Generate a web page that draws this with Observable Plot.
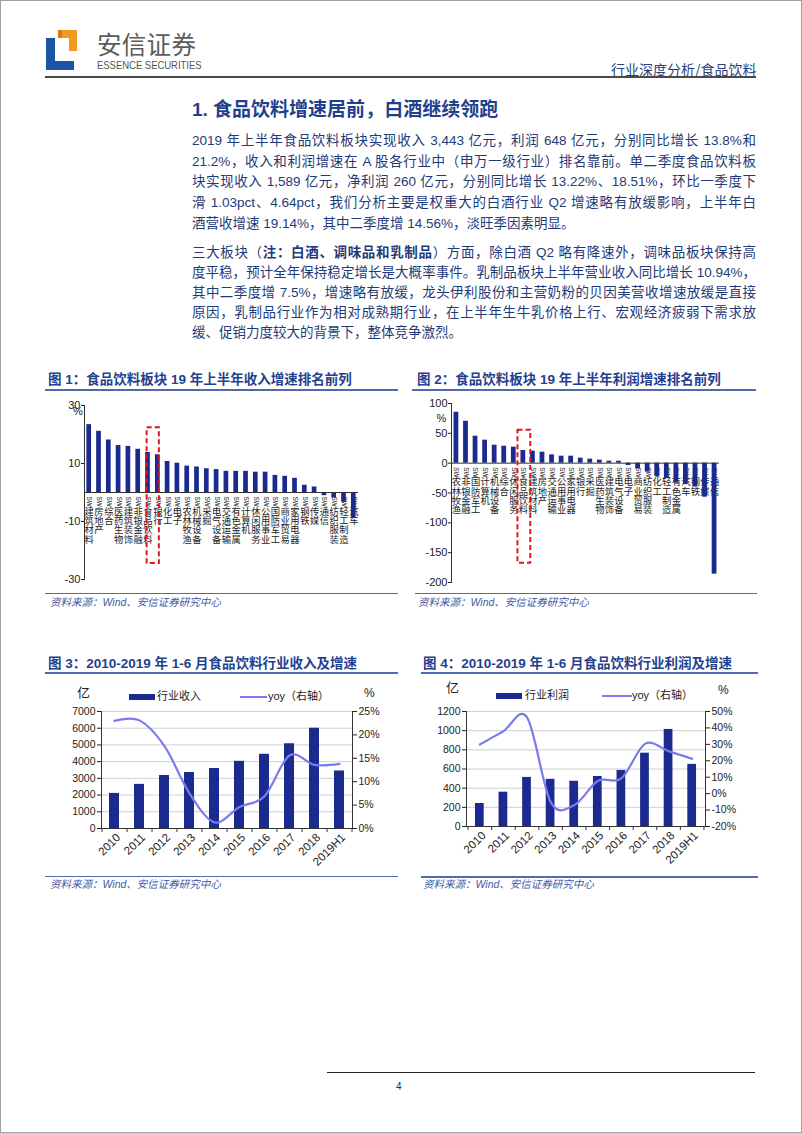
<!DOCTYPE html>
<html lang="zh-CN">
<head>
<meta charset="utf-8">
<title>行业深度分析/食品饮料</title>
<script src="https://cdn.jsdelivr.net/npm/d3@7"></script>
<script src="https://cdn.jsdelivr.net/npm/@observablehq/plot@0.6"></script>
<style>
html,body{margin:0;padding:0;background:#fff;}
#page{position:relative;width:802px;height:1133px;overflow:hidden;background:#fff;font-family:"Liberation Sans","Noto Sans CJK SC",sans-serif;}
#border{position:absolute;left:0;top:0;width:800px;height:1131px;border:1px solid #a0a0a0;pointer-events:none;}
.a{position:absolute;white-space:nowrap;}
.brand{left:97px;top:30px;font-size:24.5px;color:#5b5b5b;font-family:"Noto Sans CJK SC",sans-serif;line-height:27px;letter-spacing:0.3px;}
.essence{left:97px;top:59px;font-size:11px;line-height:12px;color:#555;font-family:"Liberation Sans",sans-serif;transform:scaleX(0.86);transform-origin:0 0;}
.hdr{left:611px;top:61px;font-size:14px;color:#2c3f7c;line-height:16px;font-family:"Noto Sans CJK SC",sans-serif;}
.rule{position:absolute;}
.h1{left:192px;top:98px;font-size:19px;font-weight:bold;color:#1f3f8f;line-height:24px;}
.ln{position:absolute;left:192px;width:564px;height:20px;line-height:20px;font-size:13.5px;color:#1f3a78;text-align:justify;text-align-last:justify;white-space:normal;}
.ln.end{text-align-last:auto;}
.ctitle{font-size:13.5px;font-weight:bold;color:#1f418f;line-height:16px;}
.src{font-size:10.5px;font-style:italic;color:#3b5ba3;line-height:14px;}
.leg{font-size:11px;line-height:15px;color:#222;}
.unit{font-size:13px;line-height:15px;color:#222;}
.chart{position:absolute;}
.chart svg{overflow:visible;}
</style>
</head>
<body>
<div id="page">
  <div id="border"></div>

  <!-- header -->
  <svg class="a" style="left:40px;top:25px" width="45" height="50" viewBox="40 25 45 50">
    <path d="M46,38 H55 V61 H74 V70 H46 Z" fill="#1c55a8"/>
    <path d="M62,30 H77 V51 H69 V38 H62 Z" fill="#f39a1e"/>
    <path d="M58,30 H62 V38 H58 Z" fill="#d9780f"/>
  </svg>
  <div class="a brand">安信证券</div>
  <div class="a essence">ESSENCE SECURITIES</div>
  <div class="a hdr">行业深度分析/食品饮料</div>
  <div class="rule" style="left:45px;top:76px;width:711px;height:2px;background:#4a4a4a"></div>

  <!-- section heading and text -->
  <div class="a h1">1. 食品饮料增速居前，白酒继续领跑</div>
  <div class="ln" style="top:131px">2019 年上半年食品饮料板块实现收入 3,443 亿元，利润 648 亿元，分别同比增长 13.8%和</div>
  <div class="ln" style="top:152px">21.2%，收入和利润增速在 A 股各行业中（申万一级行业）排名靠前。单二季度食品饮料板</div>
  <div class="ln" style="top:172px">块实现收入 1,589 亿元，净利润 260 亿元，分别同比增长 13.22%、18.51%，环比一季度下</div>
  <div class="ln" style="top:193px">滑 1.03pct、4.64pct，我们分析主要是权重大的白酒行业 Q2 增速略有放缓影响，上半年白</div>
  <div class="ln end" style="top:214px">酒营收增速 19.14%，其中二季度增 14.56%，淡旺季因素明显。</div>

  <div class="ln" style="top:243px">三大板块（<b>注：白酒、调味品和乳制品</b>）方面，除白酒 Q2 略有降速外，调味品板块保持高</div>
  <div class="ln" style="top:263px">度平稳，预计全年保持稳定增长是大概率事件。乳制品板块上半年营业收入同比增长 10.94%，</div>
  <div class="ln" style="top:283px">其中二季度增 7.5%，增速略有放缓，龙头伊利股份和主营奶粉的贝因美营收增速放缓是直接</div>
  <div class="ln" style="top:303px">原因，乳制品行业作为相对成熟期行业，在上半年生牛乳价格上行、宏观经济疲弱下需求放</div>
  <div class="ln end" style="top:323px">缓、促销力度较大的背景下，整体竞争激烈。</div>

  <!-- chart 1 / 2 titles -->
  <div class="a ctitle" style="left:48px;top:372px">图 1：食品饮料板块 19 年上半年收入增速排名前列</div>
  <div class="rule" style="left:45px;top:389px;width:353px;height:1.5px;background:#4f6bb0"></div>
  <div class="a ctitle" style="left:417px;top:372px">图 2：食品饮料板块 19 年上半年利润增速排名前列</div>
  <div class="rule" style="left:412px;top:389px;width:344px;height:1.5px;background:#4f6bb0"></div>

  <div id="c1" class="chart" style="left:40px;top:395px;width:330px;height:192px"></div>
  <div id="c2" class="chart" style="left:405px;top:395px;width:325px;height:192px"></div>

  <div class="rule" style="left:45px;top:592.5px;width:353px;height:1.5px;background:#4f6bb0"></div>
  <div class="a src" style="left:50px;top:595px">资料来源：Wind、安信证券研究中心</div>
  <div class="rule" style="left:415px;top:592.5px;width:342px;height:1.5px;background:#4f6bb0"></div>
  <div class="a src" style="left:418px;top:595px">资料来源：Wind、安信证券研究中心</div>

  <!-- chart 3 / 4 titles -->
  <div class="a ctitle" style="left:48px;top:656px">图 3：2010-2019 年 1-6 月食品饮料行业收入及增速</div>
  <div class="rule" style="left:45px;top:672px;width:353px;height:1.5px;background:#4f6bb0"></div>
  <div class="a ctitle" style="left:423px;top:656px">图 4：2010-2019 年 1-6 月食品饮料行业利润及增速</div>
  <div class="rule" style="left:421px;top:672px;width:337px;height:1.5px;background:#4f6bb0"></div>

  <!-- chart 3 legend -->
  <div class="a unit" style="left:77px;top:685px">亿</div>
  <div class="a" style="left:129px;top:694px;width:26px;height:5.5px;background:#1b2a8f"></div>
  <div class="a leg" style="left:157px;top:689px">行业收入</div>
  <div class="a" style="left:240px;top:696px;width:27px;height:2px;background:#7b7bee"></div>
  <div class="a leg" style="left:268px;top:689px">yoy（右轴）</div>
  <div class="a unit" style="left:364px;top:686px;font-size:12px">%</div>

  <!-- chart 4 legend -->
  <div class="a unit" style="left:446px;top:680px">亿</div>
  <div class="a" style="left:496px;top:693px;width:26px;height:5.5px;background:#1b2a8f"></div>
  <div class="a leg" style="left:525px;top:688px">行业利润</div>
  <div class="a" style="left:602px;top:695px;width:30px;height:2px;background:#7b7bee"></div>
  <div class="a leg" style="left:632px;top:688px">yoy（右轴）</div>
  <div class="a unit" style="left:718px;top:683px;font-size:12px">%</div>

  <div id="c3" class="chart" style="left:40px;top:700px;width:360px;height:172px"></div>
  <div id="c4" class="chart" style="left:405px;top:700px;width:360px;height:172px"></div>

  <div class="rule" style="left:45px;top:875.5px;width:353px;height:1.5px;background:#4f6bb0"></div>
  <div class="a src" style="left:50px;top:877px">资料来源：Wind、安信证券研究中心</div>
  <div class="rule" style="left:421px;top:876px;width:337px;height:1.5px;background:#4f6bb0"></div>
  <div class="a src" style="left:423px;top:877px">资料来源：Wind、安信证券研究中心</div>

  <!-- footer -->
  <div class="rule" style="left:327px;top:1071.5px;width:428px;height:1px;background:#222"></div>
  <div class="a" style="left:396px;top:1080px;font-size:10px;line-height:14px;color:#333">4</div>
</div>

<script>
// ---------- data ----------
const revCats = ["SW建筑材料","SW房地产","SW综合","SW医药生物","SW建筑装饰","SW非银金融","SW食品饮料","SW银行","SW化工","SW电子","SW农林牧渔","SW机械设备","SW采掘","SW电气设备","SW交通运输","SW有色金属","SW计算机","SW休闲服务","SW公用事业","SW国防军工","SW商业贸易","SW家用电器","SW钢铁","SW传媒","SW通信","SW纺织服装","SW轻工制造","SW汽车"];
const revGrowth = [23.4,21.1,18.1,16.2,15.9,14.9,13.8,13.0,10.7,10.1,9.1,8.8,8.2,7.9,7.3,7.3,7.3,7.0,7.0,5.9,5.6,4.9,2.5,1.9,-1.1,-1.9,-3.4,-8.9];
const revTicks = [-30,-10,10,30];
const revHighlight = {cat:"SW食品饮料", lo:-24.5, hi:22.3};

const profitCats = ["SW农林牧渔","SW非银金融","SW国防军工","SW计算机","SW机械设备","SW综合","SW休闲服务","SW食品饮料","SW建筑材料","SW房地产","SW交通运输","SW公用事业","SW家用电器","SW银行","SW采掘","SW医药生物","SW建筑装饰","SW电气设备","SW电子","SW商业贸易","SW纺织服装","SW化工","SW轻工制造","SW有色金属","SW汽车","SW钢铁","SW传媒","SW通信"];
const profitGrowth = [85.3,70.2,45.2,38.5,30.1,28.4,26.8,21.2,20.1,18.4,13.9,11.7,11.7,8.4,6.7,5.0,3.3,3.3,-3.9,-9.5,-15,-22,-26,-33,-36,-40,-57,-186];
const profitTicks = [-200,-150,-100,-50,0,50,100];
const profitHighlight = {cat:"SW食品饮料", lo:-167.7, hi:55.2};

const years = ["2010","2011","2012","2013","2014","2015","2016","2017","2018","2019H1"];
const revenue = [2100,2640,3170,3350,3590,4020,4440,5070,6000,3443];
const revenueYoy = [23.0,23.1,17.6,7.5,1.3,4.6,6.9,15.6,13.6,13.8];
const revLeftTicks = [0,1000,2000,3000,4000,5000,6000,7000];
const revRightTicks = [0,5,10,15,20,25];

const profit = [240,358,512,492,472,522,585,765,1013,648];
const profitYoy = [29.9,38.0,46.4,-5,-7,7.7,9.3,30.3,25.9,21.2];
const profLeftTicks = [0,200,400,600,800,1000,1200];
const profRightTicks = [-20,-10,0,10,20,30,40,50];

// ---------- style ----------
const NAVY = "#1b2a8f";
const LAV = "#7b7bee";
const RED = "#e8141b";
const AXIS = "#333";
const FONT = '"Liberation Sans","Noto Sans CJK SC",sans-serif';

// vertical category labels: "SW" turned sideways, Chinese characters stacked upright
function categoryLabels(table) {
  return [
    Plot.text(table, {x: "cat", y: 0, text: d => d.cat.slice(0, 2), rotate: 90, textAnchor: "start",
      fontSize: 6.5, dy: 4, fill: "#222"}),
    Plot.text(table, {x: "cat", y: 0, text: d => Array.from(d.cat.slice(2)).join("\n"), lineAnchor: "top",
      lineHeight: 1, fontSize: 9.3, dy: 15.5, fill: "#222"})
  ];
}

// ---------- chart 1 ----------
const t1 = revCats.map((c, i) => ({cat: c, v: revGrowth[i]}));
const plot1 = Plot.plot({
  width: 330, height: 192, marginLeft: 44, marginRight: 12, marginTop: 10, marginBottom: 8,
  style: {fontFamily: FONT, fontSize: "11px", color: "#222", background: "transparent"},
  x: {type: "band", domain: revCats, paddingInner: 0.52, paddingOuter: 0.24, round: false, axis: null},
  y: {domain: [-30, 30], axis: null, label: null},
  marks: [
    ...categoryLabels(t1),
    Plot.barY(t1, {x: "cat", y: "v", fill: NAVY}),
    Plot.ruleY([0], {stroke: AXIS}),
    Plot.frame({anchor: "left", stroke: AXIS}),
    Plot.axisY(revTicks, {anchor: "left", tickSize: 3, tickPadding: 1, label: null, tickFormat: d => String(d)}),
    Plot.text(["%"], {frameAnchor: "top-left", dx: -11.5, dy: 2, fontSize: 11, fill: "#222"}),
    Plot.barY([revHighlight], {x: "cat", y1: "lo", y2: "hi", fill: "none", stroke: RED, strokeWidth: 2, strokeDasharray: "5,3", insetLeft: 1.5, insetRight: -9})
  ]
});
document.getElementById("c1").append(plot1);

// ---------- chart 2 ----------
const t2 = profitCats.map((c, i) => ({cat: c, v: profitGrowth[i]}));
const plot2 = Plot.plot({
  width: 325, height: 192, marginLeft: 46, marginRight: 11, marginTop: 8, marginBottom: 5,
  style: {fontFamily: FONT, fontSize: "11px", color: "#222", background: "transparent"},
  x: {type: "band", domain: profitCats, paddingInner: 0.5, paddingOuter: 0.265, round: false, axis: null},
  y: {domain: [-200, 100], axis: null, label: null},
  marks: [
    ...categoryLabels(t2),
    Plot.barY(t2, {x: "cat", y: "v", fill: NAVY}),
    Plot.ruleY([0], {stroke: AXIS}),
    Plot.frame({anchor: "left", stroke: AXIS}),
    Plot.axisY(profitTicks, {anchor: "left", tickSize: 3, tickPadding: 1, label: null, tickFormat: d => String(d)}),
    Plot.text(["%"], {frameAnchor: "top-left", dx: -15, dy: 11, fontSize: 11, fill: "#222"}),
    Plot.barY([profitHighlight], {x: "cat", y1: "lo", y2: "hi", fill: "none", stroke: RED, strokeWidth: 2, strokeDasharray: "5,3", insetLeft: -3, insetRight: -5})
  ]
});
document.getElementById("c2").append(plot2);

// ---------- dual-axis charts ----------
function dualChart({vals, yoy, leftTicks, rightTicks, rightMin, rightMax, marginRight, marginBottom, padIn, padOut}) {
  const leftMax = leftTicks[leftTicks.length - 1];
  const k = leftMax / (rightMax - rightMin);
  const toLeft = v => (v - rightMin) * k;
  const table = years.map((y, i) => ({year: y, v: vals[i], yoy: yoy[i]}));
  const width = 360, height = 172, marginLeft = 61, marginTop = 11;
  const innerW = width - marginLeft - marginRight;
  const innerH = height - marginTop - marginBottom;
  const step = innerW / (years.length - padIn + 2 * padOut);
  const tickLen = 4 * leftMax / innerH;
  return Plot.plot({
    width, height, marginLeft, marginRight, marginTop, marginBottom,
    style: {fontFamily: FONT, fontSize: "10.5px", color: "#222", background: "transparent"},
    x: {type: "band", domain: years, paddingInner: padIn, paddingOuter: padOut, round: false, axis: null, label: null},
    y: {domain: [0, leftMax], axis: null, label: null},
    marks: [
      Plot.gridY(leftTicks.filter(d => d > 0), {stroke: "#c4c4c4", strokeOpacity: 1, strokeWidth: 0.8}),
      Plot.barY(table, {x: "year", y: "v", fill: NAVY}),
      Plot.lineY(table, {x: "year", y: d => toLeft(d.yoy), stroke: LAV, strokeWidth: 2.2, curve: "cardinal", tension: 0}),
      Plot.ruleY([0], {stroke: AXIS}),
      Plot.ruleX(years, {x: d => d, dx: -step / 2, y1: 0, y2: -tickLen, stroke: AXIS}),
      Plot.ruleX([years[years.length - 1]], {x: d => d, dx: step / 2, y1: 0, y2: -tickLen, stroke: AXIS}),
      Plot.frame({anchor: "left", stroke: AXIS}),
      Plot.frame({anchor: "right", stroke: AXIS}),
      Plot.axisY(leftTicks, {anchor: "left", tickSize: 4, tickPadding: 2, label: null, tickFormat: d3.format("d")}),
      Plot.axisY(rightTicks.map(toLeft), {anchor: "right", tickSize: 4, tickPadding: 2, label: null,
        tickFormat: v => `${Math.round(v / k + rightMin)}%`}),
      Plot.axisX(years, {anchor: "bottom", tickSize: 0, tickPadding: 7, tickRotate: -45, dx: 4, label: null, fontSize: 11.5})
    ]
  });
}

document.getElementById("c3").append(dualChart({
  vals: revenue, yoy: revenueYoy, leftTicks: revLeftTicks, rightTicks: revRightTicks,
  rightMin: 0, rightMax: 25, marginRight: 48, marginBottom: 44, padIn: 0.6, padOut: 0.32
}));
document.getElementById("c4").append(dualChart({
  vals: profit, yoy: profitYoy, leftTicks: profLeftTicks, rightTicks: profRightTicks,
  rightMin: -20, rightMax: 50, marginRight: 60, marginBottom: 46, padIn: 0.63, padOut: 0.38
}));
</script>
</body>
</html>
